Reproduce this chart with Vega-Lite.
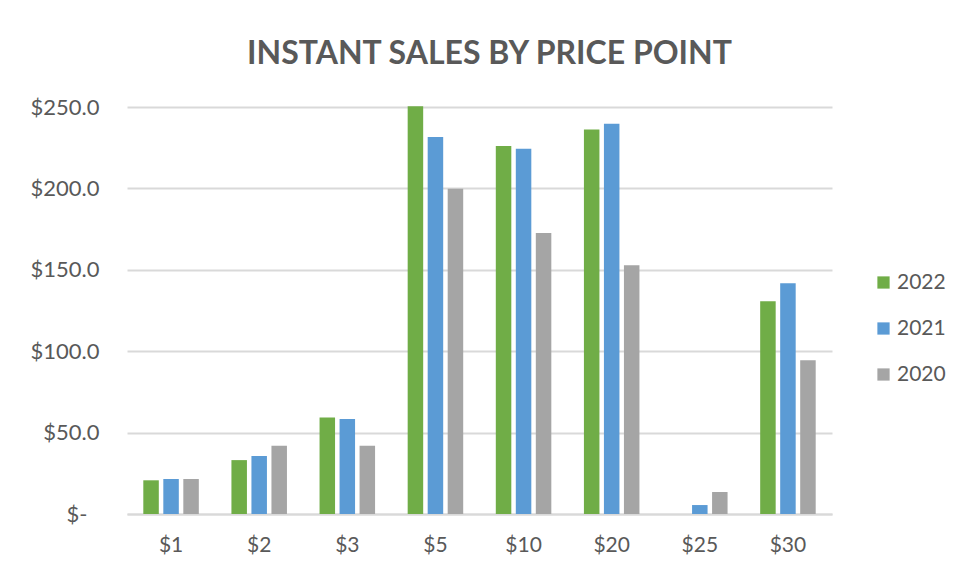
{
  "$schema": "https://vega.github.io/schema/vega-lite/v6.json",
  "width": 705,
  "height": 407,
  "autosize": {"type": "none"},
  "padding": {"left": 127, "top": 107, "right": 127, "bottom": 53},
  "background": "white",
  "title": {
    "text": "INSTANT SALES BY PRICE POINT",
    "font": "Lato",
    "fontSize": 32,
    "fontWeight": "bold",
    "color": "#595959",
    "anchor": "middle",
    "offset": 25,
    "dx": 10
  },
  "data": {
    "values": [
      {"price": "$1", "year": "2022", "sales": 20.7},
      {"price": "$1", "year": "2021", "sales": 21.5},
      {"price": "$1", "year": "2020", "sales": 21.5},
      {"price": "$2", "year": "2022", "sales": 33.1},
      {"price": "$2", "year": "2021", "sales": 35.6},
      {"price": "$2", "year": "2020", "sales": 41.9},
      {"price": "$3", "year": "2022", "sales": 59.3},
      {"price": "$3", "year": "2021", "sales": 58.3},
      {"price": "$3", "year": "2020", "sales": 41.9},
      {"price": "$5", "year": "2022", "sales": 250.5},
      {"price": "$5", "year": "2021", "sales": 231.5},
      {"price": "$5", "year": "2020", "sales": 199.8},
      {"price": "$10", "year": "2022", "sales": 226.0},
      {"price": "$10", "year": "2021", "sales": 224.4},
      {"price": "$10", "year": "2020", "sales": 172.6},
      {"price": "$20", "year": "2022", "sales": 236.2},
      {"price": "$20", "year": "2021", "sales": 239.7},
      {"price": "$20", "year": "2020", "sales": 152.8},
      {"price": "$25", "year": "2022", "sales": 0},
      {"price": "$25", "year": "2021", "sales": 5.5},
      {"price": "$25", "year": "2020", "sales": 13.5},
      {"price": "$30", "year": "2022", "sales": 130.7},
      {"price": "$30", "year": "2021", "sales": 141.7},
      {"price": "$30", "year": "2020", "sales": 94.5}
    ]
  },
  "mark": {"type": "bar"},
  "encoding": {
    "x": {
      "field": "price",
      "type": "nominal",
      "sort": ["$1", "$2", "$3", "$5", "$10", "$20", "$25", "$30"],
      "scale": {"paddingInner": 0.37, "paddingOuter": 0.185},
      "axis": {
        "title": null,
        "labelAngle": 0,
        "labelFont": "Lato",
        "labelFontSize": 21,
        "labelColor": "#595959",
        "labelPadding": 20,
        "ticks": false,
        "domainColor": "#d9d9d9",
        "domainWidth": 2
      }
    },
    "xOffset": {
      "field": "year",
      "type": "nominal",
      "sort": ["2022", "2021", "2020"],
      "scale": {"paddingInner": 0.225, "paddingOuter": 0}
    },
    "y": {
      "field": "sales",
      "type": "quantitative",
      "scale": {"domain": [0, 250], "nice": false},
      "axis": {
        "title": null,
        "values": [0, 50, 100, 150, 200, 250],
        "labelExpr": "datum.value == 0 ? '$-' : '$' + format(datum.value, '.1f')",
        "labelFont": "Lato",
        "labelFontSize": 22,
        "labelColor": "#595959",
        "labelPadding": {"condition": {"test": "datum.value == 0", "value": 40}, "value": 28},
        "ticks": false,
        "domain": false,
        "gridColor": "#d9d9d9",
        "gridWidth": 2
      }
    },
    "color": {
      "field": "year",
      "type": "nominal",
      "sort": ["2022", "2021", "2020"],
      "scale": {"domain": ["2022", "2021", "2020"], "range": ["#70AD47", "#5B9BD5", "#A5A5A5"]},
      "legend": {
        "title": null,
        "orient": "none",
        "legendX": 746,
        "legendY": 165,
        "symbolType": "square",
        "symbolSize": 150,
        "symbolStrokeWidth": 0,
        "labelFont": "Lato",
        "labelFontSize": 21,
        "labelColor": "#595959",
        "labelOffset": 3,
        "rowPadding": 24
      }
    }
  },
  "config": {
    "view": {"stroke": null}
  }
}
